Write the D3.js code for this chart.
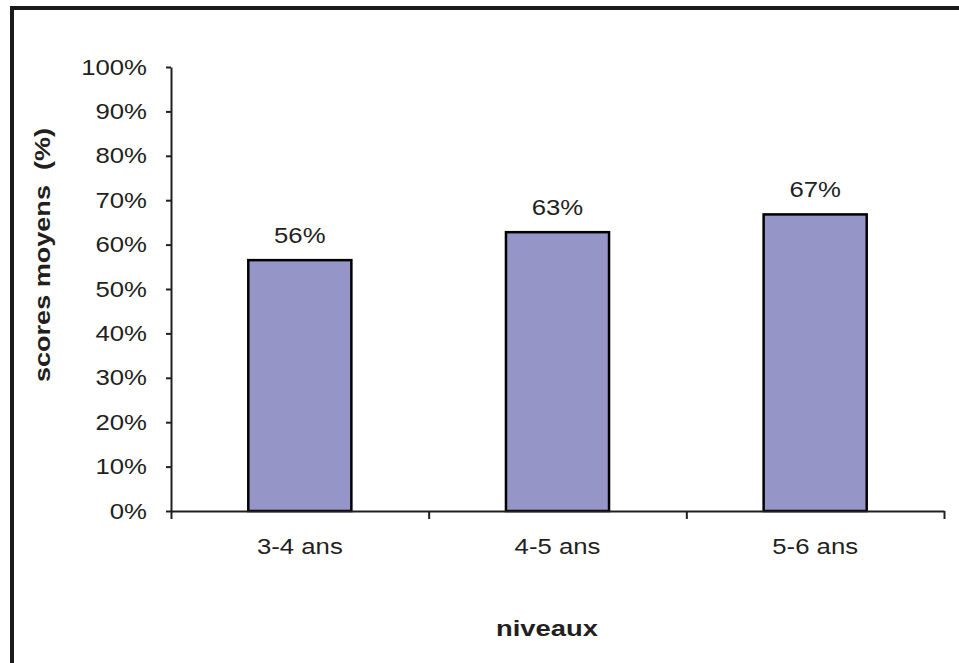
<!DOCTYPE html>
<html>
<head>
<meta charset="utf-8">
<script src="https://cdn.jsdelivr.net/npm/d3@7"></script>
<style>
  html, body { margin: 0; padding: 0; background: #fff; }
  svg { display: block; }
  text { font-family: "Liberation Sans", Arial, sans-serif; fill: #231f20; }
</style>
</head>
<body>
<script>
const categories = ["3-4 ans", "4-5 ans", "5-6 ans"];
const values = [0.565, 0.628, 0.668];
const valueLabels = ["56%", "63%", "67%"];
const yTicks = [0, 0.1, 0.2, 0.3, 0.4, 0.5, 0.6, 0.7, 0.8, 0.9, 1.0];
const yTitle = "scores moyens  (%)";
const xTitle = "niveaux";

const W = 959, H = 663;
const SX = 1.17; // horizontal stretch of the original font
const FS = 22;

const svg = d3.select("body").append("svg").attr("width", W).attr("height", H);

// outer frame (right and bottom edges cropped in the reference)
svg.append("rect").attr("x", 12).attr("y", 8).attr("width", 1000).attr("height", 700)
  .attr("fill", "none").attr("stroke", "#1a1a1a").attr("stroke-width", 4);

const x0 = 171, x1 = 944, y0 = 511, y1 = 67;
const y = d3.scaleLinear().domain([0, 1]).range([y0, y1]);
const x = d3.scaleBand().domain(categories).range([x0, x1]).paddingInner(0.6).paddingOuter(0.3);
const xEdge = d3.scaleLinear().domain([0, categories.length]).range([x0, x1]);

function stretch(sel, sx) {
  sel.each(function() {
    const t = d3.select(this);
    const ax = +t.attr("x") || 0;
    const prev = t.attr("transform") || "";
    t.attr("transform", `${prev} translate(${ax},0) scale(${sx},1) translate(${-ax},0)`);
  });
}

// bars
svg.append("g").selectAll("rect").data(values).join("rect")
  .attr("x", (d, i) => x(categories[i]))
  .attr("y", d => y(d))
  .attr("width", x.bandwidth())
  .attr("height", d => y(0) - y(d))
  .attr("fill", "#9595c8")
  .attr("stroke", "#000")
  .attr("stroke-width", 2.5);

// value labels
const vl = svg.append("g").selectAll("text").data(values).join("text")
  .attr("x", (d, i) => x(categories[i]) + x.bandwidth() / 2)
  .attr("y", d => y(d) - 17)
  .attr("text-anchor", "middle")
  .attr("font-size", FS)
  .text((d, i) => valueLabels[i]);
stretch(vl, SX);

// y axis
const yAxis = svg.append("g").attr("transform", `translate(${x0},0)`)
  .call(d3.axisLeft(y).tickValues(yTicks).tickFormat(d3.format(".0%")).tickSize(5).tickPadding(19).tickSizeOuter(0));
yAxis.selectAll("path, line").attr("stroke", "#231f20").attr("stroke-width", 2);
yAxis.selectAll("text").attr("font-size", FS).attr("font-family", null).attr("fill", "#231f20");
stretch(yAxis.selectAll("text"), SX);

// x axis: ticks at category boundaries
const xTickAxis = svg.append("g").attr("transform", `translate(0,${y0})`)
  .call(d3.axisBottom(xEdge).tickValues(d3.range(categories.length + 1)).tickFormat("").tickSize(8).tickSizeOuter(0));
xTickAxis.selectAll("path, line").attr("stroke", "#231f20").attr("stroke-width", 2);

// x axis labels at category centers
const xLab = svg.append("g").attr("transform", `translate(0,${y0})`)
  .call(d3.axisBottom(x).tickSize(0).tickPadding(27));
xLab.select(".domain").remove();
xLab.selectAll("text").attr("font-size", FS).attr("font-family", null).attr("fill", "#231f20");
stretch(xLab.selectAll("text"), SX);

// axis titles
const xt = svg.append("text").attr("x", 547).attr("y", 636)
  .attr("text-anchor", "middle").attr("font-size", FS).attr("font-weight", "bold").text(xTitle);
stretch(xt, 1.245);

svg.append("text")
  .attr("transform", `translate(50,255) rotate(-90) scale(1.23,1)`)
  .attr("text-anchor", "middle").attr("font-size", FS).attr("font-weight", "bold")
  .style("white-space", "pre").attr("xml:space", "preserve")
  .text(yTitle);
</script>
</body>
</html>
